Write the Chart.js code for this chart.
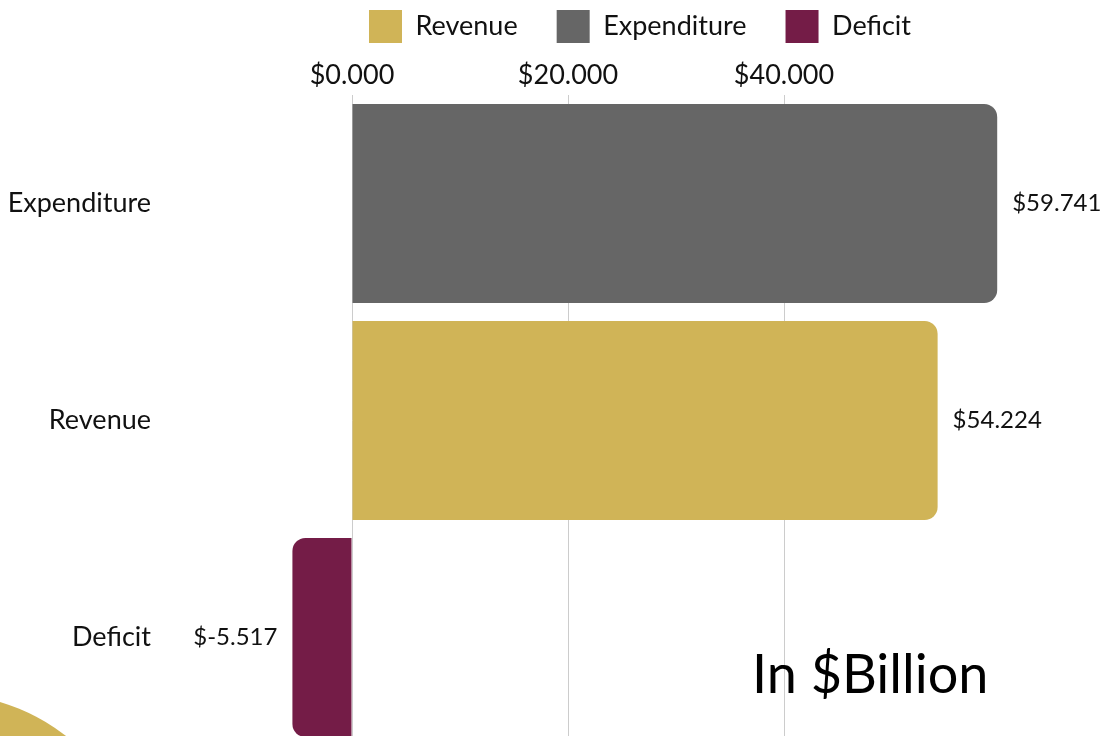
<!DOCTYPE html>
<html>
<head>
<meta charset="utf-8">
<script src="https://cdn.jsdelivr.net/npm/chart.js@4.4.1/dist/chart.umd.min.js"></script>
<style>
  html, body { margin: 0; padding: 0; background: #fff; overflow: hidden; }
  #wrap { position: relative; width: 1107px; height: 746px; }
  #blob { position: absolute; left: -267px; top: 693px; width: 414px; height: 414px; border-radius: 50%; background: #d0b457; }
  #budgetChart { position: absolute; left: 0; top: -29px; }
  #unit { position: absolute; left: 752px; top: 640px; font: 400 54px Lato, sans-serif; color: #000; }
</style>
</head>
<body>
<div id="wrap">
  <div id="blob"></div>
  <canvas id="budgetChart" width="1107" height="775"></canvas>
  <div id="unit">In $Billion</div>
</div>
<script>
// bars top to bottom
const categories = ['Expenditure', 'Revenue', 'Deficit'];
const amounts = [59.741, 54.224, -5.517];
// legend order
const seriesNames = ['Revenue', 'Expenditure', 'Deficit'];
const seriesColors = ['#d0b457', '#666666', '#741c47'];
const xTicks = [0, 20, 40];

const money = v => '$' + Number(v).toFixed(3);

// one dataset per series, value only on its own category
const datasets = seriesNames.map((name, i) => ({
    label: name,
    data: categories.map((c, j) => c === name ? amounts[j] : null),
    backgroundColor: seriesColors[i],
    borderColor: seriesColors[i],
    borderRadius: 13,
    borderSkipped: 'start',
    grouped: false,
    barPercentage: 0.917,
    categoryPercentage: 1
}));

// value labels next to bar ends
const valueLabels = {
    id: 'valueLabels',
    afterDatasetsDraw(chart) {
        const ctx = chart.ctx;
        ctx.save();
        ctx.font = '24px Lato, sans-serif';
        ctx.fillStyle = '#111';
        ctx.textBaseline = 'middle';
        chart.data.datasets.forEach((ds, i) => {
            chart.getDatasetMeta(i).data.forEach((bar, j) => {
                const v = ds.data[j];
                if (v === null) return;
                if (v >= 0) {
                    ctx.textAlign = 'left';
                    ctx.fillText(money(v), bar.x + 15, bar.y);
                } else {
                    ctx.textAlign = 'right';
                    ctx.fillText(money(v), bar.x - 15, bar.y);
                }
            });
        });
        ctx.restore();
    }
};

// legend sits right of the canvas centre in the original
const legendShift = {
    id: 'legendShift',
    afterLayout(chart) {
        chart.legend.left += 113;
        chart.legend.right += 113;
    }
};

// canvas is lifted 29px, plot top should land at y=95 on screen
const PLOT_TOP = 95 + 29;

Chart.defaults.font.family = 'Lato, sans-serif';
Chart.defaults.color = '#111';

new Chart(document.getElementById('budgetChart'), {
    type: 'bar',
    data: { labels: categories, datasets },
    options: {
        indexAxis: 'y',
        responsive: false,
        animation: false,
        layout: { padding: { left: 0, right: 53, top: 0, bottom: 0 } },
        plugins: {
            legend: {
                position: 'top',
                labels: {
                    boxWidth: 33,
                    boxHeight: 33,
                    padding: 39,
                    font: { size: 27 }
                }
            },
            tooltip: { enabled: false }
        },
        scales: {
            x: {
                position: 'top',
                min: -15,
                max: 65,
                afterBuildTicks(scale) {
                    scale.ticks = xTicks.map(v => ({ value: v }));
                },
                afterFit(scale) {
                    scale.height = Math.max(10, PLOT_TOP - scale.chart.legend.height);
                },
                ticks: {
                    font: { size: 27 },
                    padding: 4,
                    callback: v => money(v)
                },
                grid: { color: '#cccccc', drawTicks: false },
                border: { display: false }
            },
            y: {
                afterFit(scale) {
                    scale.width = 190;
                    // tick padding would otherwise reserve space under the plot
                    scale.paddingTop = 0;
                    scale.paddingBottom = 0;
                },
                ticks: {
                    font: { size: 27 },
                    padding: 39
                },
                grid: { display: false, drawTicks: false },
                border: { display: false }
            }
        }
    },
    plugins: [valueLabels, legendShift]
});
</script>
</body>
</html>
